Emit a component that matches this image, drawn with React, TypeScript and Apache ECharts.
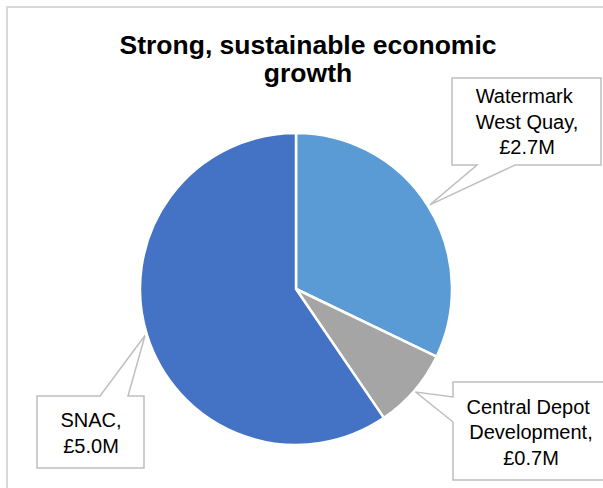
import React, { useEffect, useRef } from "react";
import * as echarts from "echarts";

const titleText = "Strong, sustainable economic\ngrowth";
const categories = ["Watermark West Quay", "Central Depot Development", "SNAC"];
const values = [2.7, 0.7, 5.0];
const colors = ["#5B9BD5", "#A5A5A5", "#4472C4"];

const FONT = "'Liberation Sans', Arial, Helvetica, sans-serif";

// layout of callout boxes: [left, top, right, bottom], tail edge and tail base
const boxes = [
  { l: 452, t: 78, r: 601, b: 165, edge: "bottom", a: 477, c: 515, cx: 527, cy: 121.5, w: 135 },
  { l: 453, t: 382, r: 612, b: 480, edge: "left", a: 397, c: 422, cx: 531, cy: 432, w: 140 },
  { l: 37, t: 396, r: 144, b: 468, edge: "top", a: 100, c: 128, cx: 91, cy: 433, w: 100 },
];

const CX = 296;
const CY = 289;
const R = 156;

export default function App() {
  const ref = useRef<HTMLDivElement>(null);
  useEffect(() => {
    if (!ref.current) return;
    const chart = echarts.init(ref.current, undefined, { renderer: "svg" });
    const total = values.reduce((s, v) => s + v, 0);
    let cum = 0;
    const tips = values.map((v) => {
      const mid = 90 - (360 * (cum + v / 2)) / total;
      cum += v;
      const rad = (mid * Math.PI) / 180;
      return [CX + (R + 2) * Math.cos(rad), CY - (R + 2) * Math.sin(rad)];
    });
    const bubbles = boxes.map((bx, i) => {
      const tip = tips[i];
      let pts: number[][] = [];
      if (bx.edge === "bottom") {
        pts = [[bx.l, bx.t], [bx.r, bx.t], [bx.r, bx.b], [bx.c, bx.b], tip, [bx.a, bx.b], [bx.l, bx.b]];
      } else if (bx.edge === "left") {
        pts = [[bx.l, bx.t], [bx.r, bx.t], [bx.r, bx.b], [bx.l, bx.b], [bx.l, bx.c], tip, [bx.l, bx.a]];
      } else {
        pts = [[bx.l, bx.t], [bx.a, bx.t], tip, [bx.c, bx.t], [bx.r, bx.t], [bx.r, bx.b], [bx.l, bx.b]];
      }
      return {
        type: "polygon",
        z: 0,
        shape: { points: pts },
        style: { fill: "#ffffff", stroke: "#bfbfbf", lineWidth: 1.5 },
        silent: true,
      };
    });
    chart.setOption({
      animation: false,
      backgroundColor: "#ffffff",
      title: {
        text: titleText,
        left: 303,
        top: 26.5,
        textAlign: "center",
        textStyle: {
          fontFamily: FONT,
          fontSize: 26.5,
          fontWeight: "bold",
          lineHeight: 27.5,
          color: "#000000",
        },
      },
      graphic: [
        {
          type: "rect",
          z: 0,
          shape: { x: 7, y: 7, width: 700, height: 600 },
          style: { fill: "none", stroke: "#d9d9d9", lineWidth: 2 },
          silent: true,
        },
        ...bubbles,
      ],
      series: [
        {
          type: "pie",
          center: [CX, CY],
          radius: R,
          startAngle: 90,
          clockwise: true,
          z: 2,
          itemStyle: { borderColor: "#ffffff", borderWidth: 2.5 },
          label: {
            show: true,
            position: "outside",
            fontFamily: FONT,
            fontSize: 20,
            lineHeight: 25.5,
            color: "#000000",
            align: "center",
            overflow: "break",
            formatter: (p: any) => p.name + ",\n£" + Number(p.value).toFixed(1) + "M",
          },
          labelLine: { show: false },
          labelLayout: (params: any) => {
            const bx = boxes[params.dataIndex];
            return { x: bx.cx, y: bx.cy, align: "center", verticalAlign: "middle", width: bx.w };
          },
          data: categories.map((name, i) => ({
            name,
            value: values[i],
            itemStyle: { color: colors[i] },
            label: { width: boxes[i].w },
          })),
        },
      ],
    });
    return () => chart.dispose();
  }, []);
  return (
    <div
      ref={ref}
      style={{ position: "fixed", left: 0, top: 0, width: 603, height: 488 }}
    />
  );
}
